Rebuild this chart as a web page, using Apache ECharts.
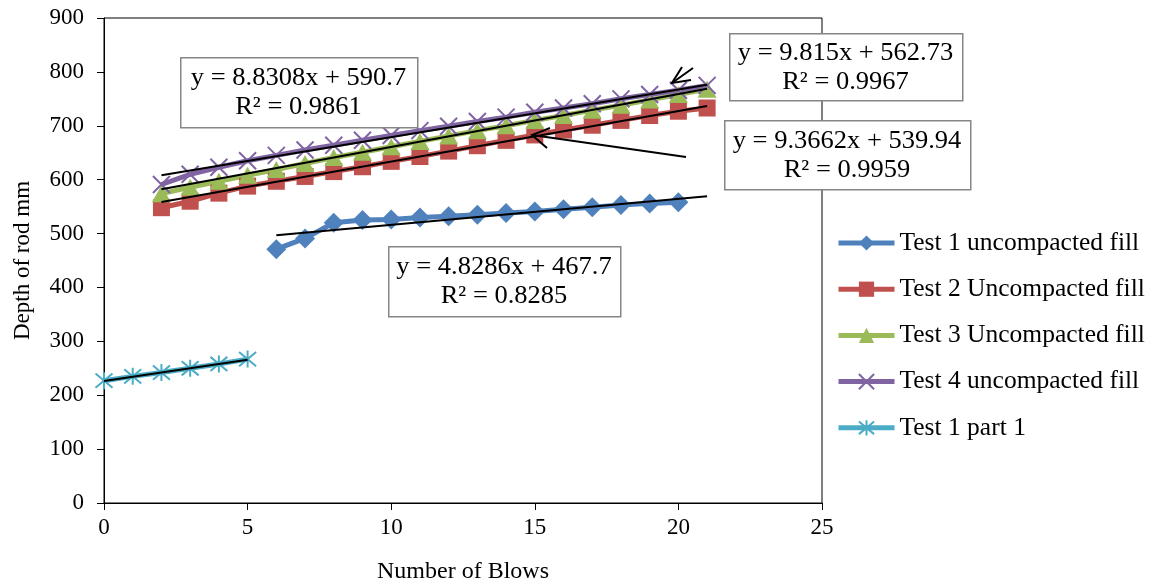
<!DOCTYPE html>
<html>
<head>
<meta charset="utf-8">
<script src="https://cdn.jsdelivr.net/npm/echarts@6/dist/echarts.min.js"></script>
<style>
  html, body { margin: 0; padding: 0; background: #fff; }
  #chart { width: 1160px; height: 586px; }
</style>
</head>
<body>
<div id="chart"></div>
<script>
// blows (x) and rod depth (mm) per test
const test1Blows = [6, 7, 8, 9, 10, 11, 12, 13, 14, 15, 16, 17, 18, 19, 20];
const test1Depth = [471, 491, 520, 525, 526, 530, 532, 535, 538, 541, 545, 549, 553, 556, 558];

const test2Blows = [2, 3, 4, 5, 6, 7, 8, 9, 10, 11, 12, 13, 14, 15, 16, 17, 18, 19, 20, 21];
const test2Depth = [548, 560, 575, 588, 597, 606, 615, 624, 634, 643, 653, 663, 673, 683, 692, 701, 710, 719, 727, 733];

const test3Blows = [2, 3, 4, 5, 6, 7, 8, 9, 10, 11, 12, 13, 14, 15, 16, 17, 18, 19, 20, 21];
const test3Depth = [574, 586, 597, 608, 619, 630, 641, 651, 661, 671, 681, 691, 700, 710, 719, 729, 738, 748, 758, 768];

const test4Blows = [2, 3, 4, 5, 6, 7, 8, 9, 10, 11, 12, 13, 14, 15, 16, 17, 18, 19, 20, 21];
const test4Depth = [591, 610, 623, 635, 645, 655, 664, 673, 682, 691, 699, 708, 716, 725, 733, 741, 750, 758, 766, 775];

const part1Blows = [0, 1, 2, 3, 4, 5];
const part1Depth = [227, 235, 242, 250, 258, 267];

const seriesNames = ['Test 1 uncompacted fill', 'Test 2 Uncompacted fill', 'Test 3 Uncompacted fill', 'Test 4 uncompacted fill', 'Test 1 part 1'];
const seriesColors = ['#4F81BD', '#C0504D', '#9BBB59', '#8064A2', '#4BACC6'];

// linear trendlines (Excel): slope, intercept, x range
const trendSlope = [4.8286, 9.3662, 9.815, 8.8308, 7.9];
const trendIntercept = [467.7, 539.94, 562.73, 590.7, 226.5];
const trendFrom = [6, 2, 2, 2, 0];
const trendTo = [21, 21, 21, 21, 5];
const trendR2 = ['0.8285', '0.9959', '0.9967', '0.9861'];

const xTicks = [0, 5, 10, 15, 20, 25];

const serif = '"Liberation Serif", "Times New Roman", serif';
const pts = (xs, ys) => xs.map((x, i) => [x, ys[i]]);

const crossPath = 'path://M0,0L10,10M10,0L0,10';
const starPath = 'path://M0,0L10,10M10,0L0,10M5,-1L5,11';

const dataSeries = [
  { data: pts(test1Blows, test1Depth), symbol: 'diamond', symbolSize: 20 },
  { data: pts(test2Blows, test2Depth), symbol: 'rect', symbolSize: 17 },
  { data: pts(test3Blows, test3Depth), symbol: 'triangle', symbolSize: [19, 17] },
  { data: pts(test4Blows, test4Depth), symbol: crossPath, symbolSize: 17 },
  { data: pts(part1Blows, part1Depth), symbol: starPath, symbolSize: 17 }
].map((s, i) => {
  const stroked = i >= 3;
  return {
    name: seriesNames[i],
    type: 'line',
    data: s.data,
    symbol: s.symbol,
    symbolSize: s.symbolSize,
    showSymbol: true,
    lineStyle: { color: seriesColors[i], width: 5 },
    itemStyle: stroked
      ? { color: seriesColors[i], borderColor: seriesColors[i], borderWidth: 2 }
      : { color: seriesColors[i] },
    emphasis: { disabled: true },
    animation: false
  };
});

const trendSeries = trendSlope.map((m, i) => ({
  name: 'trend' + i,
  type: 'line',
  data: [
    [trendFrom[i], m * trendFrom[i] + trendIntercept[i]],
    [trendTo[i], m * trendTo[i] + trendIntercept[i]]
  ],
  symbol: 'none',
  lineStyle: { color: '#000', width: 2 },
  z: 5,
  silent: true,
  animation: false
}));

const eqText = (i) => 'y = ' + trendSlope[i] + 'x + ' + trendIntercept[i] + '\nR² = ' + trendR2[i];

// equation boxes: [series index, left, top, width, height]
const boxes = [
  [3, 180, 57, 237, 70],
  [2, 729, 33, 233, 67],
  [1, 724, 120, 246, 69],
  [0, 388, 246, 232, 70]
];

const graphics = [];
boxes.forEach(b => {
  graphics.push({
    type: 'rect', left: b[1], top: b[2], z: 100,
    shape: { width: b[3], height: b[4] },
    style: { fill: '#fff', stroke: '#868686', lineWidth: 1.5 }
  });
  graphics.push({
    type: 'text', z: 101,
    x: b[1] + b[3] / 2, y: b[2] + b[4] / 2 + 1,
    scaleX: 1.06,
    style: {
      text: eqText(b[0]), fill: '#000', font: '25px ' + serif,
      align: 'center', verticalAlign: 'middle', lineHeight: 29
    }
  });
});
// arrows
graphics.push({ type: 'polyline', z: 102, shape: { points: [[686, 157], [532, 135]] }, style: { stroke: '#000', lineWidth: 2, fill: null } });
graphics.push({ type: 'polyline', z: 102, shape: { points: [[550, 128], [532, 135], [547, 148]] }, style: { stroke: '#000', lineWidth: 2, fill: null } });
graphics.push({ type: 'polyline', z: 102, shape: { points: [[693, 68], [672, 83]] }, style: { stroke: '#000', lineWidth: 2, fill: null } });
graphics.push({ type: 'polyline', z: 102, shape: { points: [[682, 67], [672, 83], [691, 80]] }, style: { stroke: '#000', lineWidth: 2, fill: null } });

const chart = echarts.init(document.getElementById('chart'));
chart.setOption({
  backgroundColor: '#fff',
  animation: false,
  grid: {
    left: 104, right: 338, top: 18, bottom: 83,
    outerBoundsMode: 'none',
    show: true, borderColor: '#000', borderWidth: 1, backgroundColor: '#fff'
  },
  legend: {
    data: seriesNames,
    orient: 'vertical',
    left: 831, top: 225,
    itemWidth: 56, itemHeight: 19,
    itemGap: 20.2,
    lineStyle: { width: 5 },
    textStyle: { fontFamily: serif, fontSize: 25.5, color: '#000' }
  },
  xAxis: {
    type: 'value', min: 0, max: 25, interval: 5,
    name: 'Number of Blows', nameLocation: 'middle', nameGap: 57,
    nameTextStyle: { fontFamily: serif, fontSize: 24, color: '#000' },
    axisLine: { lineStyle: { color: '#000', width: 1 } },
    axisTick: { show: true, length: 7, lineStyle: { color: '#000' } },
    axisLabel: { fontFamily: serif, fontSize: 23, color: '#000', margin: 13,
      formatter: v => xTicks.includes(v) ? String(v) : '' },
    splitLine: { show: false }
  },
  yAxis: {
    type: 'value', min: 0, max: 900, interval: 100,
    name: 'Depth of rod mm', nameLocation: 'middle', nameGap: 70,
    nameTextStyle: { fontFamily: serif, fontSize: 23, color: '#000' },
    axisLine: { show: true, lineStyle: { color: '#000', width: 1 } },
    axisTick: { show: true, length: 7, lineStyle: { color: '#000' } },
    axisLabel: { fontFamily: serif, fontSize: 23, color: '#000', margin: 20 },
    splitLine: { show: false }
  },
  series: dataSeries.concat(trendSeries),
  graphic: graphics
});
</script>
</body>
</html>
